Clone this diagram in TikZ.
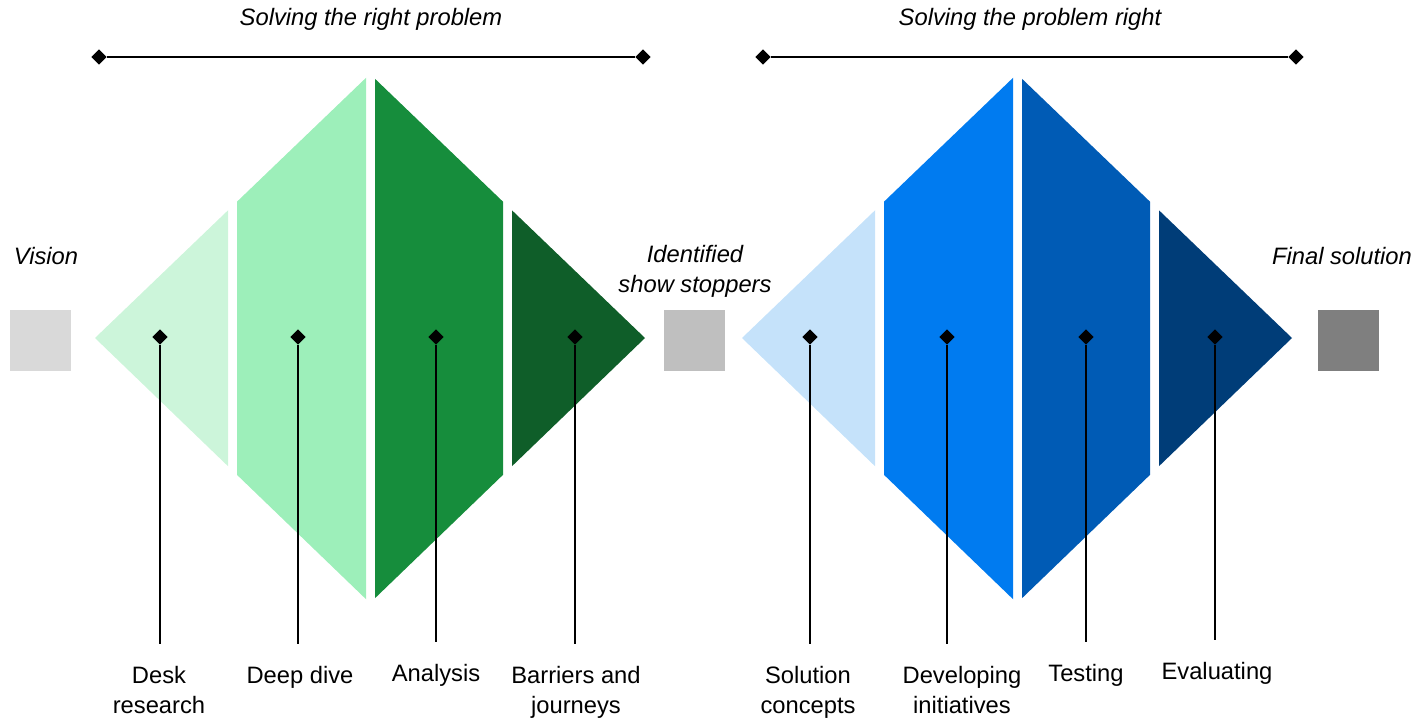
\documentclass[tikz,border=0pt]{standalone}
\usepackage{fontspec}
\setmainfont{Liberation Sans}
\usetikzlibrary{shapes.geometric}

\definecolor{greenA}{RGB}{204,245,218}
\definecolor{greenB}{RGB}{157,239,186}
\definecolor{greenC}{RGB}{22,141,60}
\definecolor{greenD}{RGB}{15,94,41}
\definecolor{blueA}{RGB}{197,226,250}
\definecolor{blueB}{RGB}{0,123,240}
\definecolor{blueC}{RGB}{0,91,181}
\definecolor{blueD}{RGB}{0,61,120}
\definecolor{greyA}{RGB}{217,217,217}
\definecolor{greyB}{RGB}{191,191,191}
\definecolor{greyC}{RGB}{127,127,127}

\tikzset{
  pin/.style={diamond, fill=black, inner sep=0pt, minimum width=11.5pt, minimum height=11.5pt},
  stone/.style={rectangle, inner sep=0pt, minimum size=45.75pt},
  lbl/.style={anchor=north, align=center, inner sep=0pt},
  stem/.style={line width=0.9pt, shorten >=16.5pt}
}

\begin{document}
\begin{tikzpicture}[x=0.75pt,y=0.75pt,yscale=-1,xscale=1,
    font=\fontsize{17.8}{22.5}\selectfont]
\useasboundingbox (0,0) rectangle (1422,718);

% Diamonds, cut into four strips each
\foreach \cx/\ca/\cb/\cc/\cd in {370/greenA/greenB/greenC/greenD, 1017/blueA/blueB/blueC/blueD}{
  \foreach \a/\b/\col in {0/133/\ca, 142/271/\cb, 280/408/\cc, 417/550/\cd}{
    \begin{scope}
      \clip (\cx-275+\a,0) rectangle (\cx-275+\b,718);
      \fill[fill=\col] (\cx-275,338) -- (\cx,74) -- (\cx+275,338) -- (\cx,603) -- cycle;
    \end{scope}
  }
}

% Titles and range bars
\node (title1) at (371,19) {\itshape Solving the right problem};
\node (title2) at (1030,19) {\itshape Solving the problem right};
\node[pin] (bar1a) at (99,57) {};
\node[pin] (bar1b) at (643,57) {};
\node[pin] (bar2a) at (763,57) {};
\node[pin] (bar2b) at (1296,57) {};
\draw[line width=1pt] (bar1a) -- (bar1b);
\draw[line width=1pt] (bar2a) -- (bar2b);

% Stages
\node[stone, fill=greyA] (vision) at (40.5,340.5) {};
\node[stone, fill=greyB] (stoppers) at (694.5,340.5) {};
\node[stone, fill=greyC] (final) at (1348.5,340.5) {};
\node (visiontxt) at (46,256) {\itshape Vision};
\node[align=center] (stopperstxt) at (695,271) {\itshape Identified\\\itshape show stoppers};
\node (finaltxt) at (1342,256) {\itshape Final solution};

% Pins
\node[pin] (p1) at (160,337) {};
\node[pin] (p2) at (298,337) {};
\node[pin] (p3) at (436,337) {};
\node[pin] (p4) at (575,337) {};
\node[pin] (p5) at (810,337) {};
\node[pin] (p6) at (947,337) {};
\node[pin] (p7) at (1086,337) {};
\node[pin] (p8) at (1215,337) {};

% Text Node
\node[lbl] (l1) at (159,666) {Desk\\research};
\node[lbl] (l2) at (300,666) {Deep dive};
\node[lbl] (l3) at (436,664) {Analysis};
\node[lbl] (l4) at (576,666) {Barriers and\\journeys};
\node[lbl] (l5) at (808,666) {Solution\\concepts};
\node[lbl] (l6) at (962,666) {Developing\\initiatives};
\node[lbl] (l7) at (1086,664) {Testing};
\node[lbl] (l8) at (1217,662) {Evaluating};

% Stems
\foreach \i in {1,...,8}
  \draw[stem] (p\i) -- (p\i |- l\i.north);
\end{tikzpicture}
\end{document}
